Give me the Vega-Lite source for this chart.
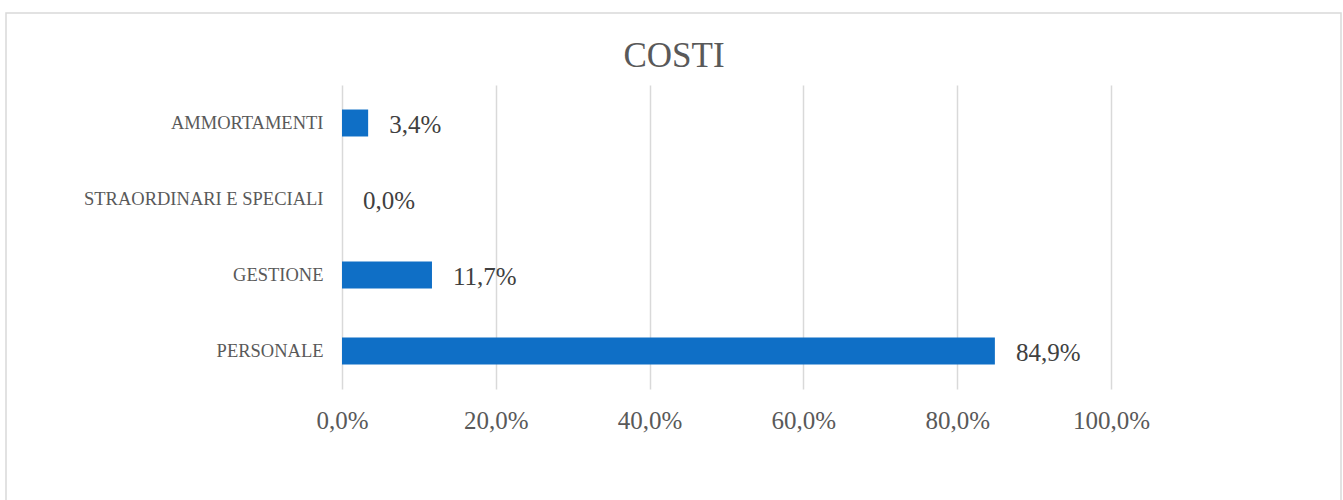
{
  "$schema": "https://vega.github.io/schema/vega-lite/v6.json",
  "width": 1335,
  "height": 495,
  "autosize": "none",
  "padding": {"left": 6, "top": 13, "right": 2, "bottom": 0},
  "background": "white",
  "config": {
    "locale": {"number": {"decimal": ",", "thousands": ".", "grouping": [3], "currency": ["", " €"]}},
    "view": {"stroke": "#D9D9D9", "strokeWidth": 1.5}
  },
  "data": {
    "values": [
      {"voce": "AMMORTAMENTI", "quota": 0.034},
      {"voce": "STRAORDINARI E SPECIALI", "quota": 0.0},
      {"voce": "GESTIONE", "quota": 0.117},
      {"voce": "PERSONALE", "quota": 0.849}
    ]
  },
  "layer": [
    {
      "mark": {"type": "bar", "color": "#0F6FC6"},
      "encoding": {
        "y": {
          "field": "voce",
          "type": "nominal",
          "sort": null,
          "scale": {"range": [72, 376], "paddingInner": 0.645, "paddingOuter": 0.3225},
          "axis": {
            "title": null,
            "offset": -336,
            "labelPadding": 19,
            "labelLimit": 400,
            "ticks": false,
            "domain": false,
            "grid": false,
            "labelFont": "Liberation Serif",
            "labelFontSize": 18.5,
            "labelColor": "#595959",
            "labelBaseline": "middle"
          }
        },
        "x": {
          "field": "quota",
          "type": "quantitative",
          "scale": {"domain": [0, 1], "range": [336, 1105]},
          "axis": {
            "title": "COSTI",
            "titleX": 667.5,
            "titleY": -365,
            "titleAlign": "center",
            "titleBaseline": "middle",
            "titleAngle": 0,
            "titleFont": "Liberation Serif",
            "titleFontSize": 35,
            "titleFontWeight": "normal",
            "titleColor": "#595959",
            "orient": "top",
            "values": [0, 0.2, 0.4, 0.6, 0.8, 1],
            "format": ".1%",
            "offset": -407,
            "labelPadding": 0,
            "labelBaseline": "middle",
            "labelFlush": false,
            "labelAlign": "center",
            "ticks": false,
            "domain": false,
            "grid": true,
            "gridColor": "#D9D9D9",
            "gridWidth": 1.5,
            "labelFont": "Liberation Serif",
            "labelFontSize": 25,
            "labelColor": "#595959"
          }
        }
      }
    },
    {
      "mark": {
        "type": "text",
        "align": "left",
        "baseline": "middle",
        "dx": 21,
        "dy": 2,
        "font": "Liberation Serif",
        "fontSize": 25,
        "color": "#404040"
      },
      "encoding": {
        "y": {"field": "voce", "type": "nominal", "sort": null},
        "x": {"field": "quota", "type": "quantitative"},
        "text": {"field": "quota", "type": "quantitative", "format": ".1%"}
      }
    }
  ]
}
